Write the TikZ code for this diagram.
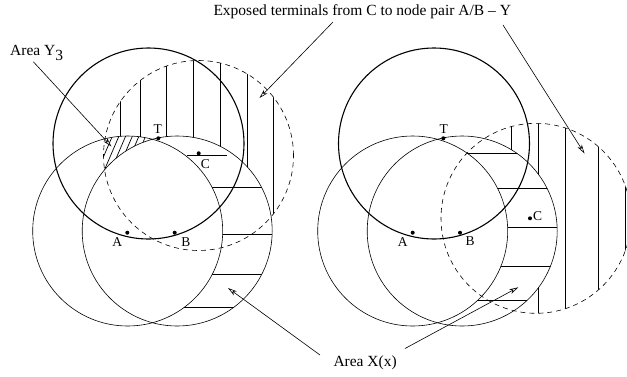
\documentclass[tikz,border=0pt]{standalone}
\usepackage{fontspec}
\setmainfont{Liberation Serif}
\usetikzlibrary{arrows.meta}
\begin{document}
\begin{tikzpicture}[x=1pt,y=-1pt,
  thincirc/.style={line width=0.6pt},
  thickcirc/.style={line width=1.1pt},
  dashcirc/.style={line width=0.6pt, dash pattern=on 5pt off 4pt},
  hatch/.style={line width=0.7pt},
  dot/.style={circle, fill=black, inner sep=0pt, minimum size=4pt},
  lbl/.style={font=\fontsize{13.5}{15}\selectfont, inner sep=0pt, anchor=base},
  caption/.style={font=\fontsize{15.5}{18}\selectfont, inner sep=0pt, anchor=base west},
  pointer/.style={line width=0.6pt, -{Stealth[open,length=9pt,width=5pt,inset=2.5pt]}}]
\useasboundingbox (0,0) rectangle (627,376);
% ---------- centres ----------
\coordinate (TL) at (148.5,143.5);
\coordinate (AL) at (127.7,231);
\coordinate (BL) at (177.2,231);
\coordinate (CL) at (198.5,155.5);
\coordinate (TR) at (434,143.5);
\coordinate (AR) at (412.7,231);
\coordinate (BR) at (462.2,231);
\coordinate (CR) at (536,218.3);
% ---------- left panel hatching ----------
\begin{scope}[even odd rule]
  \clip (CL) circle[radius=95pt];
  \clip (-10,-10) rectangle (640,390) (AL) circle[radius=95pt];
  \clip (-10,-10) rectangle (640,390) (BL) circle[radius=95pt];
  \foreach \x in {120.7,140,166.7,193.3,220,247.3,273.3}
    \draw[hatch] (\x,0) -- (\x,376);
\end{scope}
\begin{scope}[even odd rule]
  \clip (BL) circle[radius=95pt];
  \clip (-10,-10) rectangle (640,390) (AL) circle[radius=95pt];
  \foreach \y in {187.5,234,274,307}
    \draw[hatch] (0,\y) -- (627,\y);
\end{scope}
\draw[hatch] (187,155) -- (227,155);
\begin{scope}[even odd rule]
  \clip (AL) circle[radius=95pt];
  \clip (CL) circle[radius=95pt];
  \clip (-10,-10) rectangle (640,390) (BL) circle[radius=95pt];
  \foreach \x in {97.3,104,110.7,117.3,124,130.7,137.3,144,150.7}
    \draw[hatch] (\x-17.2,180) -- (\x+4.3,130);
\end{scope}
% ---------- right panel hatching ----------
\begin{scope}[even odd rule]
  \clip (CR) circle[radius=95pt];
  \clip (-10,-10) rectangle (640,390) (AR) circle[radius=95pt];
  \clip (-10,-10) rectangle (640,390) (BR) circle[radius=95pt];
  \foreach \x in {511.7,538.3,565,598.3,625}
    \draw[hatch] (\x,0) -- (\x,376);
\end{scope}
\begin{scope}[even odd rule]
  \clip (BR) circle[radius=95pt];
  \clip (-10,-10) rectangle (640,390) (AR) circle[radius=95pt];
  \foreach \y in {153.3,188.3,227.7,266.7,300}
    \draw[hatch] (0,\y) -- (627,\y);
\end{scope}
% ---------- circles ----------
\draw[thincirc] (AL) circle[radius=95pt];
\draw[thincirc] (BL) circle[radius=95pt];
\draw[dashcirc] (CL) circle[radius=95pt];
\draw[thickcirc] (TL) circle[radius=95.5pt];
\draw[thincirc] (AR) circle[radius=95pt];
\draw[thincirc] (BR) circle[radius=95pt];
\draw[dashcirc] (CR) circle[radius=95pt];
\draw[thickcirc] (TR) circle[radius=95.5pt];
% ---------- dots and letters ----------
\node[dot] (dTL) at (158.3,138.3) {};
\node[dot] (dAL) at (127.3,232.7) {};
\node[dot] (dBL) at (174.7,232.7) {};
\node[dot] (dCL) at (198.7,153.3) {};
\node[lbl] (tTL) at (157.8,133.3) {T};
\node[lbl] (tAL) at (117.2,246.5) {A};
\node[lbl] (tBL) at (185.8,246.5) {B};
\node[lbl] (tCL) at (205.5,168.3) {C};
\node[dot] (dTR) at (443.3,138.3) {};
\node[dot] (dAR) at (412.7,232.7) {};
\node[dot] (dBR) at (460,232.7) {};
\node[dot] (dCR) at (530,218.3) {};
\node[lbl] (tTR) at (443.7,133.3) {T};
\node[lbl] (tAR) at (402.8,246) {A};
\node[lbl] (tBR) at (470,245.7) {B};
\node[lbl] (tCR) at (537.7,220.7) {C};
% ---------- captions ----------
\node[caption] (capE) at (213.3,15) {Exposed terminals from C to node pair A/B -- Y};
\node[caption] (capY) at (10,55) {Area Y\raisebox{-5pt}{3}};
\node[caption] (capX) at (333.3,366) {Area X(x)};
\coordinate (eS1) at (333,22);   \coordinate (eT1) at (259.5,98);
\coordinate (eS2) at (503,25);   \coordinate (eT2) at (584.5,153.5);
\coordinate (yS) at (33.3,61.7); \coordinate (yT) at (111.5,146.5);
\coordinate (xS1) at (320,355);  \coordinate (xT1) at (228,288);
\coordinate (xS2) at (405,348.5);\coordinate (xT2) at (518.3,287.3);
\draw[pointer] (eS1) -- (eT1);
\draw[pointer] (eS2) -- (eT2);
\draw[pointer] (yS) -- (yT);
\draw[pointer] (xS1) -- (xT1);
\draw[pointer] (xS2) -- (xT2);
\end{tikzpicture}
\end{document}
